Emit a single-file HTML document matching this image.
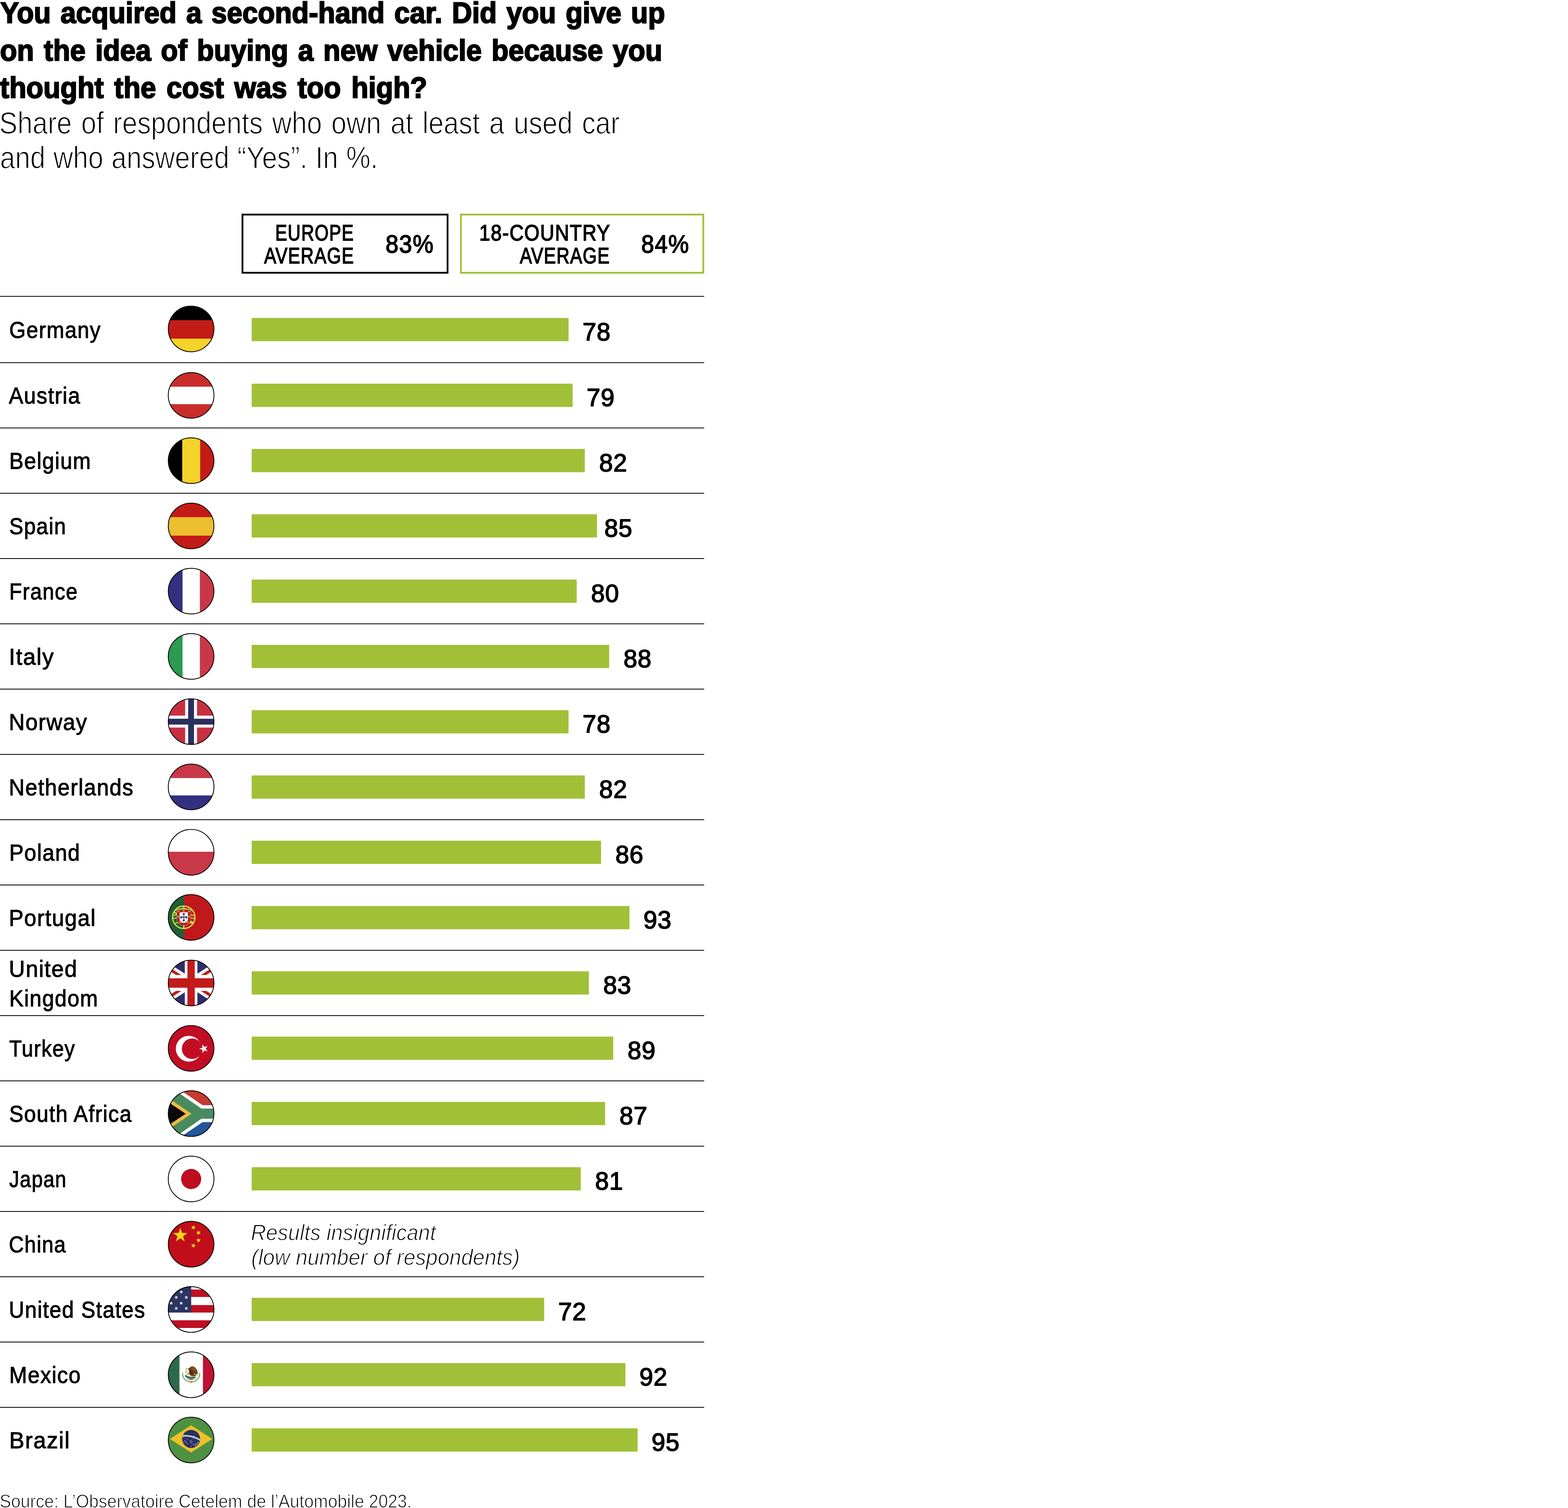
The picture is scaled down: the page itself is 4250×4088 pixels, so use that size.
<!DOCTYPE html>
<html lang="en"><head><meta charset="utf-8"><title>Second-hand car chart</title>
<style>
html,body{margin:0;padding:0;background:#fff;width:4250px;height:4088px;overflow:hidden}
#page{position:relative;width:4250px;height:4088px;overflow:hidden;background:#fff;font-family:"Liberation Sans", sans-serif;color:#000}
h1,p,ul,li{margin:0;padding:0;font:inherit;list-style:none}
.x{position:absolute;display:block;white-space:nowrap;transform-origin:0 0;margin:0}
.t{font-weight:700}
.n{font-style:italic}
#g{position:absolute;left:0;top:0}
</style></head>
<body>
<div id="page">
<svg id="g" width="4250" height="4088" viewBox="0 0 4250 4088">
<defs><clipPath id="cc"><circle r="62.20"/></clipPath></defs>
<rect x="0" y="802.30" width="1908.6" height="2.2" fill="#000"/>
<rect x="0" y="982.00" width="1908.6" height="2.2" fill="#000"/>
<rect x="0" y="1159.00" width="1908.6" height="2.2" fill="#000"/>
<rect x="0" y="1336.00" width="1908.6" height="2.2" fill="#000"/>
<rect x="0" y="1513.00" width="1908.6" height="2.2" fill="#000"/>
<rect x="0" y="1690.00" width="1908.6" height="2.2" fill="#000"/>
<rect x="0" y="1867.00" width="1908.6" height="2.2" fill="#000"/>
<rect x="0" y="2044.00" width="1908.6" height="2.2" fill="#000"/>
<rect x="0" y="2221.00" width="1908.6" height="2.2" fill="#000"/>
<rect x="0" y="2398.00" width="1908.6" height="2.2" fill="#000"/>
<rect x="0" y="2575.00" width="1908.6" height="2.2" fill="#000"/>
<rect x="0" y="2752.00" width="1908.6" height="2.2" fill="#000"/>
<rect x="0" y="2929.00" width="1908.6" height="2.2" fill="#000"/>
<rect x="0" y="3106.00" width="1908.6" height="2.2" fill="#000"/>
<rect x="0" y="3283.00" width="1908.6" height="2.2" fill="#000"/>
<rect x="0" y="3460.00" width="1908.6" height="2.2" fill="#000"/>
<rect x="0" y="3637.00" width="1908.6" height="2.2" fill="#000"/>
<rect x="0" y="3814.00" width="1908.6" height="2.2" fill="#000"/>
<rect x="682.1" y="861.90" width="858.94" height="63" fill="#a2c037"/>
<rect x="682.1" y="1040.10" width="869.95" height="63" fill="#a2c037"/>
<rect x="682.1" y="1217.10" width="902.98" height="63" fill="#a2c037"/>
<rect x="682.1" y="1394.10" width="936.02" height="63" fill="#a2c037"/>
<rect x="682.1" y="1571.10" width="880.96" height="63" fill="#a2c037"/>
<rect x="682.1" y="1748.10" width="969.06" height="63" fill="#a2c037"/>
<rect x="682.1" y="1925.10" width="858.94" height="63" fill="#a2c037"/>
<rect x="682.1" y="2102.10" width="902.98" height="63" fill="#a2c037"/>
<rect x="682.1" y="2279.10" width="947.03" height="63" fill="#a2c037"/>
<rect x="682.1" y="2456.10" width="1024.12" height="63" fill="#a2c037"/>
<rect x="682.1" y="2633.10" width="914.00" height="63" fill="#a2c037"/>
<rect x="682.1" y="2810.10" width="980.07" height="63" fill="#a2c037"/>
<rect x="682.1" y="2987.10" width="958.04" height="63" fill="#a2c037"/>
<rect x="682.1" y="3164.10" width="891.97" height="63" fill="#a2c037"/>
<rect x="682.1" y="3518.10" width="792.86" height="63" fill="#a2c037"/>
<rect x="682.1" y="3695.10" width="1013.10" height="63" fill="#a2c037"/>
<rect x="682.1" y="3872.10" width="1046.14" height="63" fill="#a2c037"/>
<rect x="657.20" y="581.70" width="555.90" height="157.70" fill="none" stroke="#000" stroke-width="4.8"/>
<rect x="1249.20" y="581.70" width="657.00" height="157.70" fill="none" stroke="#a2c037" stroke-width="4.8"/>
<g transform="translate(518.0,891.65)"><g clip-path="url(#cc)"><rect x="-66" y="-66" width="132" height="132" fill="#c31c17"/><rect x="-66" y="-66" width="132" height="42.35" fill="#000"/><rect x="-66" y="26.35" width="132" height="39.65" fill="#f6d32a"/></g><circle r="61.90" fill="none" stroke="#000" stroke-width="2.2"/></g>
<g transform="translate(518.0,1071.80)"><g clip-path="url(#cc)"><rect x="-66" y="-66" width="132" height="132" fill="#c92d2a"/><rect x="-66" y="-23.5" width="132" height="47.3" fill="#fff"/></g><circle r="61.90" fill="none" stroke="#000" stroke-width="2.2"/></g>
<g transform="translate(518.0,1248.70)"><g clip-path="url(#cc)"><rect x="-66" y="-66" width="132" height="132" fill="#f6d32a"/><rect x="-66" y="-66" width="41.95" height="132" fill="#000"/><rect x="24.55" y="-66" width="41.45" height="132" fill="#c31c17"/></g><circle r="61.90" fill="none" stroke="#000" stroke-width="2.2"/></g>
<g transform="translate(518.0,1425.70)"><g clip-path="url(#cc)"><rect x="-66" y="-66" width="132" height="132" fill="#c31c17"/><rect x="-66" y="-23.8" width="132" height="50.1" fill="#edbe2e"/></g><circle r="61.90" fill="none" stroke="#000" stroke-width="2.2"/></g>
<g transform="translate(518.0,1602.50)"><g clip-path="url(#cc)"><rect x="-66" y="-66" width="132" height="132" fill="#fff"/><rect x="-66" y="-66" width="42.75" height="132" fill="#33317f"/><rect x="23.75" y="-66" width="42.25" height="132" fill="#c93848"/></g><circle r="61.90" fill="none" stroke="#000" stroke-width="2.2"/></g>
<g transform="translate(518.0,1779.50)"><g clip-path="url(#cc)"><rect x="-66" y="-66" width="132" height="132" fill="#fff"/><rect x="-66" y="-66" width="42.75" height="132" fill="#2c9a50"/><rect x="23.75" y="-66" width="42.25" height="132" fill="#c93848"/></g><circle r="61.90" fill="none" stroke="#000" stroke-width="2.2"/></g>
<g transform="translate(518.0,1956.20)"><g clip-path="url(#cc)"><rect x="-66" y="-66" width="132" height="132" fill="#c83042"/><rect x="-16.15" y="-66" width="32.2" height="132" fill="#fff"/><rect x="-66" y="-16.2" width="132" height="32.3" fill="#fff"/><rect x="-7.95" y="-66" width="15.8" height="132" fill="#2b2f5e"/><rect x="-66" y="-7.8" width="132" height="15.9" fill="#2b2f5e"/></g><circle r="61.90" fill="none" stroke="#000" stroke-width="2.2"/></g>
<g transform="translate(518.0,2133.30)"><g clip-path="url(#cc)"><rect x="-66" y="-66" width="132" height="132" fill="#fff"/><rect x="-66" y="-66" width="132" height="41.9" fill="#c93848"/><rect x="-66" y="23.0" width="132" height="43.0" fill="#33317f"/></g><circle r="61.90" fill="none" stroke="#000" stroke-width="2.2"/></g>
<g transform="translate(518.0,2310.40)"><g clip-path="url(#cc)"><rect x="-66" y="-66" width="132" height="132" fill="#fff"/><rect x="-66" y="-1.4" width="132" height="67.4" fill="#c93848"/></g><circle r="61.90" fill="none" stroke="#000" stroke-width="2.2"/></g>
<g transform="translate(518.0,2486.90)"><g clip-path="url(#cc)"><rect x="-66" y="-66" width="132" height="132" fill="#c1181c"/><rect x="-66" y="-66" width="46.9" height="132" fill="#235e35"/><g transform="translate(-19.9,-0.2)"><circle r="30.4" fill="none" stroke="#9ec95a" stroke-width="3.5"/><path d="M0 -30.4V30.4" stroke="#9ec95a" stroke-width="3.5" fill="none"/><path d="M-30 -4C-18 -9 18 -9 30 -4M-30 4C-18 -1 18 -1 30 4" stroke="#9ec95a" stroke-width="2.80" fill="none"/><path d="M-24 -18C-12 -25 12 -25 24 -18M-24.5 17C-12 11 12 11 24.5 17" stroke="#9ec95a" stroke-width="2.80" fill="none"/><path d="M-27 -14L26 15" stroke="#9ec95a" stroke-width="4.38" fill="none"/><circle r="30.4" fill="none" stroke="#ece232" stroke-width="1.9"/><path d="M0 -30.4V30.4" stroke="#ece232" stroke-width="1.9" fill="none"/><path d="M-30 -4C-18 -9 18 -9 30 -4M-30 4C-18 -1 18 -1 30 4" stroke="#ece232" stroke-width="1.52" fill="none"/><path d="M-24 -18C-12 -25 12 -25 24 -18M-24.5 17C-12 11 12 11 24.5 17" stroke="#ece232" stroke-width="1.52" fill="none"/><path d="M-27 -14L26 15" stroke="#ece232" stroke-width="2.38" fill="none"/><path d="M-18.9 -21.3H18.9V5.5C18.9 15.5 10.5 22 0 22C-10.5 22 -18.9 15.5 -18.9 5.5Z" fill="#c1181c" stroke="#8cc8c0" stroke-width="0.9"/><path d="M-11 -13.4H11V4.5C11 10.8 6 15 0 15C-6 15 -11 10.8 -11 4.5Z" fill="#fff" stroke="#bfe3dd" stroke-width="0.6"/><path d="M-2.7 -11.1H2.7V-7.4C2.7 -5.6 1.4 -4.8 0 -4.8C-1.4 -4.8 -2.7 -5.6 -2.7 -7.4Z" fill="#2c2f7c"/><circle cx="-1" cy="-9.3" r="0.45" fill="#d9dcf2"/><circle cx="1" cy="-9.3" r="0.45" fill="#d9dcf2"/><circle cx="0" cy="-8" r="0.45" fill="#d9dcf2"/><circle cx="-1" cy="-6.7" r="0.45" fill="#d9dcf2"/><circle cx="1" cy="-6.7" r="0.45" fill="#d9dcf2"/><path d="M-9.4 -2.9H-4.0V0.8C-4.0 2.6 -5.300000000000001 3.4000000000000004 -6.7 3.4000000000000004C-8.1 3.4000000000000004 -9.4 2.6 -9.4 0.8Z" fill="#2c2f7c"/><circle cx="-7.7" cy="-1.1" r="0.45" fill="#d9dcf2"/><circle cx="-5.7" cy="-1.1" r="0.45" fill="#d9dcf2"/><circle cx="-6.7" cy="0.2" r="0.45" fill="#d9dcf2"/><circle cx="-7.7" cy="1.5" r="0.45" fill="#d9dcf2"/><circle cx="-5.7" cy="1.5" r="0.45" fill="#d9dcf2"/><path d="M-2.7 -2.9H2.7V0.8C2.7 2.6 1.4 3.4000000000000004 0 3.4000000000000004C-1.4 3.4000000000000004 -2.7 2.6 -2.7 0.8Z" fill="#2c2f7c"/><circle cx="-1" cy="-1.1" r="0.45" fill="#d9dcf2"/><circle cx="1" cy="-1.1" r="0.45" fill="#d9dcf2"/><circle cx="0" cy="0.2" r="0.45" fill="#d9dcf2"/><circle cx="-1" cy="1.5" r="0.45" fill="#d9dcf2"/><circle cx="1" cy="1.5" r="0.45" fill="#d9dcf2"/><path d="M4.0 -2.9H9.4V0.8C9.4 2.6 8.1 3.4000000000000004 6.7 3.4000000000000004C5.300000000000001 3.4000000000000004 4.0 2.6 4.0 0.8Z" fill="#2c2f7c"/><circle cx="5.7" cy="-1.1" r="0.45" fill="#d9dcf2"/><circle cx="7.7" cy="-1.1" r="0.45" fill="#d9dcf2"/><circle cx="6.7" cy="0.2" r="0.45" fill="#d9dcf2"/><circle cx="5.7" cy="1.5" r="0.45" fill="#d9dcf2"/><circle cx="7.7" cy="1.5" r="0.45" fill="#d9dcf2"/><path d="M-2.7 5.300000000000001H2.7V9.0C2.7 10.8 1.4 11.600000000000001 0 11.600000000000001C-1.4 11.600000000000001 -2.7 10.8 -2.7 9.0Z" fill="#2c2f7c"/><circle cx="-1" cy="7.1000000000000005" r="0.45" fill="#d9dcf2"/><circle cx="1" cy="7.1000000000000005" r="0.45" fill="#d9dcf2"/><circle cx="0" cy="8.4" r="0.45" fill="#d9dcf2"/><circle cx="-1" cy="9.700000000000001" r="0.45" fill="#d9dcf2"/><circle cx="1" cy="9.700000000000001" r="0.45" fill="#d9dcf2"/><rect x="-17.2" y="-18.9" width="5.2" height="4.6" fill="#b5a01e"/><rect x="-16.1" y="-20.099999999999998" width="3" height="1.6" fill="#8f7c14"/><rect x="-2.8000000000000003" y="-18.9" width="5.2" height="4.6" fill="#b5a01e"/><rect x="-1.7" y="-20.099999999999998" width="3" height="1.6" fill="#8f7c14"/><rect x="11.9" y="-18.9" width="5.2" height="4.6" fill="#b5a01e"/><rect x="13.0" y="-20.099999999999998" width="3" height="1.6" fill="#8f7c14"/><rect x="-17.2" y="-4.0" width="5.2" height="4.6" fill="#b5a01e"/><rect x="-16.1" y="-5.2" width="3" height="1.6" fill="#8f7c14"/><rect x="11.9" y="-4.0" width="5.2" height="4.6" fill="#b5a01e"/><rect x="13.0" y="-5.2" width="3" height="1.6" fill="#8f7c14"/><rect x="-13.299999999999999" y="11.2" width="5.2" height="4.6" fill="#b5a01e"/><rect x="-12.2" y="10.0" width="3" height="1.6" fill="#8f7c14"/><rect x="8.200000000000001" y="11.2" width="5.2" height="4.6" fill="#b5a01e"/><rect x="9.3" y="10.0" width="3" height="1.6" fill="#8f7c14"/></g></g><circle r="61.90" fill="none" stroke="#000" stroke-width="2.2"/></g>
<g transform="translate(518.0,2664.70)"><g clip-path="url(#cc)"><rect x="-66" y="-66" width="132" height="132" fill="#2f2c6e"/><path d="M-100 -64.0L100 64.0M100 -64.0L-100 64.0" stroke="#fff" stroke-width="24.1" fill="none"/><path d="M-100 -64.0L100 64.0M100 -64.0L-100 64.0" stroke="#c21b1b" stroke-width="7.9" fill="none"/><rect x="-17.1" y="-66" width="34.15" height="132" fill="#fff"/><rect x="-66" y="-21.6" width="132" height="43.1" fill="#fff"/><rect x="-10.0" y="-66" width="19.9" height="132" fill="#c21b1b"/><rect x="-66" y="-12.7" width="132" height="25.6" fill="#c21b1b"/></g><circle r="61.90" fill="none" stroke="#000" stroke-width="2.2"/></g>
<g transform="translate(518.0,2841.90)"><g clip-path="url(#cc)"><rect x="-66" y="-66" width="132" height="132" fill="#c10e24"/><circle cx="-6.4" cy="1.05" r="35.05" fill="#fff"/><circle cx="2.7" cy="1.1" r="27.8" fill="#c10e24"/><polygon points="21.95,0.90 30.73,-1.95 30.73,-11.18 36.15,-3.71 44.92,-6.56 39.50,0.90 44.92,8.36 36.15,5.51 30.73,12.98 30.73,3.75" fill="#fff"/></g><circle r="61.90" fill="none" stroke="#000" stroke-width="2.2"/></g>
<g transform="translate(518.0,3018.85)"><g clip-path="url(#cc)"><rect x="-66" y="-66" width="132" height="132" fill="#fff"/><polygon points="-38.35,-70 70,-70 70,-22.9 31,-22.9" fill="#c73a2f"/><polygon points="-38.35,70.2 70,70.2 70,23.05 31,23.05" fill="#24569c"/><polygon points="-53.5,-70 28,-13.6 70,-13.6 70,14 28,14 -53.5,70.3 -70,70.3 -70,-70" fill="#4a8a5f"/><polygon points="-70,-47.7 1.3,0.4 -70,48.5" fill="#ecba41"/><polygon points="-70,-36.4 -14.7,0.4 -70,37.2" fill="#0a0a0d"/></g><circle r="61.90" fill="none" stroke="#000" stroke-width="2.2"/></g>
<g transform="translate(518.0,3196.00)"><g clip-path="url(#cc)"><rect x="-66" y="-66" width="132" height="132" fill="#fff"/><circle cx="0.1" cy="0.1" r="27.3" fill="#be0d1f"/></g><circle r="61.90" fill="none" stroke="#000" stroke-width="2.2"/></g>
<g transform="translate(518.0,3372.85)"><g clip-path="url(#cc)"><rect x="-66" y="-66" width="132" height="132" fill="#c10e1a"/><polygon points="-29.30,-44.60 -24.67,-30.37 -9.71,-30.37 -21.82,-21.57 -17.19,-7.33 -29.30,-16.13 -41.41,-7.33 -36.78,-21.57 -48.89,-30.37 -33.93,-30.37" fill="#f8d90f"/><polygon points="-0.08,-41.50 3.36,-45.44 0.67,-49.93 5.49,-47.88 8.92,-51.82 8.46,-46.61 13.27,-44.56 8.17,-43.39 7.71,-38.18 5.02,-42.67" fill="#f8d90f"/><polygon points="12.87,-29.82 17.57,-32.10 16.86,-37.28 20.48,-33.51 25.19,-35.79 22.72,-31.18 26.35,-27.40 21.20,-28.32 18.73,-23.71 18.02,-28.89" fill="#f8d90f"/><polygon points="13.05,-12.49 18.28,-12.74 19.65,-17.79 21.51,-12.90 26.73,-13.16 22.65,-9.88 24.51,-4.99 20.13,-7.85 16.06,-4.58 17.43,-9.62" fill="#f8d90f"/><polygon points="0.45,-0.56 5.35,1.25 8.59,-2.86 8.39,2.37 13.29,4.18 8.26,5.60 8.06,10.83 5.15,6.48 0.11,7.90 3.35,3.79" fill="#f8d90f"/></g><circle r="61.90" fill="none" stroke="#000" stroke-width="2.2"/></g>
<g transform="translate(518.0,3549.85)"><g clip-path="url(#cc)"><rect x="-66" y="-66" width="132" height="132" fill="#fff"/><rect x="-66" y="-95.6" width="132" height="20.85" fill="#bf0f22"/><rect x="-66" y="-54.2" width="132" height="20.25" fill="#bf0f22"/><rect x="-66" y="-12.0" width="132" height="20.3" fill="#bf0f22"/><rect x="-66" y="29.3" width="132" height="20.85" fill="#bf0f22"/><rect x="-66" y="70.9" width="132" height="20.85" fill="#bf0f22"/><rect x="-66" y="-66" width="66.2" height="74.3" fill="#2c3464"/><polygon points="-26.70,-52.70 -25.43,-49.05 -21.56,-48.97 -24.65,-46.63 -23.53,-42.93 -26.70,-45.14 -29.87,-42.93 -28.75,-46.63 -31.84,-48.97 -27.97,-49.05" fill="#fff"/><polygon points="-40.30,-38.20 -39.03,-34.55 -35.16,-34.47 -38.25,-32.13 -37.13,-28.43 -40.30,-30.64 -43.47,-28.43 -42.35,-32.13 -45.44,-34.47 -41.57,-34.55" fill="#fff"/><polygon points="-13.00,-38.20 -11.73,-34.55 -7.86,-34.47 -10.95,-32.13 -9.83,-28.43 -13.00,-30.64 -16.17,-28.43 -15.05,-32.13 -18.14,-34.47 -14.27,-34.55" fill="#fff"/><polygon points="-54.00,-22.30 -52.73,-18.65 -48.86,-18.57 -51.95,-16.23 -50.83,-12.53 -54.00,-14.74 -57.17,-12.53 -56.05,-16.23 -59.14,-18.57 -55.27,-18.65" fill="#fff"/><polygon points="-26.90,-22.30 -25.63,-18.65 -21.76,-18.57 -24.85,-16.23 -23.73,-12.53 -26.90,-14.74 -30.07,-12.53 -28.95,-16.23 -32.04,-18.57 -28.17,-18.65" fill="#fff"/><polygon points="-40.30,-8.30 -39.03,-4.65 -35.16,-4.57 -38.25,-2.23 -37.13,1.47 -40.30,-0.74 -43.47,1.47 -42.35,-2.23 -45.44,-4.57 -41.57,-4.65" fill="#fff"/><polygon points="-13.00,-8.30 -11.73,-4.65 -7.86,-4.57 -10.95,-2.23 -9.83,1.47 -13.00,-0.74 -16.17,1.47 -15.05,-2.23 -18.14,-4.57 -14.27,-4.65" fill="#fff"/></g><circle r="61.90" fill="none" stroke="#000" stroke-width="2.2"/></g>
<g transform="translate(518.0,3726.85)"><g clip-path="url(#cc)"><rect x="-66" y="-66" width="132" height="132" fill="#fff"/><rect x="-66" y="-66" width="34.5" height="132" fill="#2d6a4a"/><rect x="32.1" y="-66" width="33.9" height="132" fill="#bf1131"/><g><ellipse cx="-23.17" cy="-0.05" rx="2.5" ry="1.4" fill="#7f9a44" transform="rotate(53.7 -23.17 -0.05)"/><ellipse cx="23.17" cy="-0.05" rx="2.5" ry="1.4" fill="#7f9a44" transform="rotate(126.3 23.17 -0.05)"/><ellipse cx="-22.23" cy="3.86" rx="2.5" ry="1.4" fill="#7f9a44" transform="rotate(43.2 -22.23 3.86)"/><circle cx="-20.01" cy="2.66" r="0.8" fill="#d0aa3a"/><ellipse cx="22.23" cy="3.86" rx="2.5" ry="1.4" fill="#7f9a44" transform="rotate(136.8 22.23 3.86)"/><circle cx="20.01" cy="2.66" r="0.8" fill="#d0aa3a"/><ellipse cx="-20.58" cy="7.55" rx="2.5" ry="1.4" fill="#7f9a44" transform="rotate(32.8 -20.58 7.55)"/><ellipse cx="20.58" cy="7.55" rx="2.5" ry="1.4" fill="#7f9a44" transform="rotate(147.2 20.58 7.55)"/><ellipse cx="-18.29" cy="10.90" rx="2.5" ry="1.4" fill="#7f9a44" transform="rotate(22.4 -18.29 10.90)"/><ellipse cx="18.29" cy="10.90" rx="2.5" ry="1.4" fill="#7f9a44" transform="rotate(157.6 18.29 10.90)"/><ellipse cx="-15.41" cy="13.80" rx="2.5" ry="1.4" fill="#7f9a44" transform="rotate(12.2 -15.41 13.80)"/><circle cx="-13.87" cy="12.60" r="0.8" fill="#d0aa3a"/><ellipse cx="15.41" cy="13.80" rx="2.5" ry="1.4" fill="#7f9a44" transform="rotate(167.8 15.41 13.80)"/><circle cx="13.87" cy="12.60" r="0.8" fill="#d0aa3a"/><ellipse cx="-12.05" cy="16.17" rx="2.5" ry="1.4" fill="#7f9a44" transform="rotate(2.1 -12.05 16.17)"/><ellipse cx="12.05" cy="16.17" rx="2.5" ry="1.4" fill="#7f9a44" transform="rotate(177.9 12.05 16.17)"/><ellipse cx="-8.31" cy="17.93" rx="2.5" ry="1.4" fill="#7f9a44" transform="rotate(-7.9 -8.31 17.93)"/><ellipse cx="8.31" cy="17.93" rx="2.5" ry="1.4" fill="#7f9a44" transform="rotate(187.9 8.31 17.93)"/><ellipse cx="-4.30" cy="19.01" rx="2.5" ry="1.4" fill="#7f9a44" transform="rotate(-17.8 -4.30 19.01)"/><circle cx="-3.87" cy="17.81" r="0.8" fill="#d0aa3a"/><ellipse cx="4.30" cy="19.01" rx="2.5" ry="1.4" fill="#7f9a44" transform="rotate(197.8 4.30 19.01)"/><circle cx="3.87" cy="17.81" r="0.8" fill="#d0aa3a"/><ellipse cx="-0.16" cy="19.40" rx="2.5" ry="1.4" fill="#7f9a44" transform="rotate(-27.6 -0.16 19.40)"/><ellipse cx="0.16" cy="19.40" rx="2.5" ry="1.4" fill="#7f9a44" transform="rotate(207.6 0.16 19.40)"/><ellipse cx="-22.60" cy="-3.60" rx="2.6" ry="1.2" fill="#7f9a44" transform="rotate(-70.0 -22.60 -3.60)"/><ellipse cx="22.90" cy="-3.60" rx="2.6" ry="1.2" fill="#7f9a44" transform="rotate(70.0 22.90 -3.60)"/><path d="M-1.6 19.2L0.4 17.2L2.4 19.2L0.4 21.6Z" fill="#c8374c"/><path d="M-2.6 20.6L-0.8 19.4M3.4 20.6L1.6 19.4" stroke="#3f8a5a" stroke-width="0.9"/><path d="M-11.6 10.2C-9 8.4 -5 9.6 -3.2 9.2L4.2 9.2C6 9.6 8 8.6 9.4 10C8.6 12.8 5 14.2 -1 14.2C-6 14.2 -10 13 -11.6 10.2Z" fill="#56a7e0"/><path d="M-9.5 11.6H-5.5M4.6 11.8H8" stroke="#e8f3fb" stroke-width="0.8"/><path d="M-4.4 10.2H4.6L4 14.4H-3.8Z" fill="#c45a1e"/><path d="M-2.6 11.2L-0.6 13L1.4 11.2L2.8 13" stroke="#e9a24a" stroke-width="0.8" fill="none"/><path d="M-16.6 0.8C-14.8 -0.6 -12.4 1.2 -10.4 2.6C-7.4 4.4 -3 5.2 1 5.4C5.2 5.6 9.4 5 13.4 6.4C13.8 8.4 11.6 10 8.4 10.2C4.4 10.6 -0.6 10 -5.2 9.6C-9.4 9.2 -13.6 8.4 -15.4 6.2C-16.6 4.6 -17.2 2.4 -16.6 0.8Z" fill="#3b7c78"/><path d="M-13.4 3.6C-10 6 -4 7.4 2 7.6C6 7.8 9.6 7.4 12 7.8" stroke="#2a5f66" stroke-width="1" fill="none" stroke-dasharray="1.6 1.2"/><path d="M-4.6 -18.6C-2.6 -20.8 -0.9 -21.6 1.2 -22.4C3.6 -23.2 6.4 -22.6 9 -21C12.8 -18.6 16 -14.2 17.4 -9.4C18.4 -6 18.2 -2.6 16.6 0.6C16 -1.4 15.2 -3 14.2 -4.2C14.6 -1.4 14.4 1.4 13.9 3.7C10 4.2 5.4 4.2 1.3 3.7C-0.8 3 -2.4 1.8 -3.2 0.7C-5 -1 -6 -3 -5.8 -4.5C-6.4 -6.6 -6 -8.6 -5.4 -10.4C-7 -12.4 -7.8 -14.6 -7.6 -16.7C-6.8 -17.8 -5.6 -18.4 -4.6 -18.6Z" fill="#6b4017"/><path d="M1.4 -21.6C5.4 -21.8 9.6 -19.4 12.6 -15.4C15.2 -12 16.8 -7.6 16.6 -3.4C15 -6.4 12.6 -9 9.6 -11C6.4 -13 3.4 -14.4 1.6 -17C0.8 -18.4 0.8 -20.2 1.4 -21.6Z" fill="#8b5d27"/><path d="M-3.6 -13.4C-0.6 -11.4 2.4 -8.4 4.4 -4.8C5.6 -2.6 6.2 -0.6 6.2 1.2C3.4 0.4 0.4 -1.6 -1.6 -4.4C-3.4 -7 -4.2 -10.4 -3.6 -13.4Z" fill="#4a2a0e"/><path d="M4 -19.5L13 -8.5M7 -21L15.5 -10.5M2.4 -16.4L11 -6.4M8.6 -9.4L13.4 -1.6M11.4 -10.4L15.4 -3.2" stroke="#4a2a0e" stroke-width="0.7" fill="none" stroke-dasharray="1.4 1"/><path d="M6.6 -2.6L12.6 0.6L14.6 3.4" stroke="#fff" stroke-width="1.1" fill="none"/><path d="M1.6 3.4L6.8 2.6L9.8 4.6L8.4 6L3.2 6.2Z" fill="#c2a02e"/><path d="M-7.2 -17.2C-9.4 -17.9 -12 -17.2 -13.6 -15.6L-11 -14.6C-9.6 -15.4 -8.2 -15.4 -6.9 -14.9Z" fill="#c9a432"/><path d="M-13 -18C-14.8 -16.4 -12.2 -14.2 -12.6 -12.2C-13 -10.2 -15.4 -9.4 -14.8 -7.2C-14.2 -5.2 -11.8 -5.6 -10.8 -4C-10 -2.8 -10.8 -1.6 -9.8 -0.8C-8.8 0 -7.4 -0.6 -6.4 -0.2" fill="none" stroke="#9a8a35" stroke-width="1.3"/><path d="M-16.8 -9.2L-13.4 -9.4L-15.8 -7.4Z" fill="#c9a432"/><path d="M-10.4 -3.4L-6 -4.2L-5.6 -0.8L-9.6 0.2Z" fill="#c2a02e"/><path d="M-12.4 -12.6L-8.6 -7.4M-11.6 -8.4L-8 -4.6" stroke="#a9b06a" stroke-width="0.7"/></g></g><circle r="61.90" fill="none" stroke="#000" stroke-width="2.2"/></g>
<g transform="translate(518.0,3903.70)"><g clip-path="url(#cc)"><rect x="-66" y="-66" width="132" height="132" fill="#4f9142"/><polygon points="-57.4,-3.0 -0.2,-39.9 57.4,-3.0 -0.2,33.9" fill="#ecc127"/><circle cx="0" cy="-2.9" r="24.5" fill="#2b3064"/><clipPath id="brc"><circle cx="0" cy="-2.9" r="24.5"/></clipPath><g clip-path="url(#brc)"><path d="M-26 -10.9Q2 -14.2 26 1.3" fill="none" stroke="#fff" stroke-width="3.7"/><path d="M-22 -11.05Q2 -13.6 23 -0.2" fill="none" stroke="#4f9142" stroke-width="1.6" stroke-dasharray="1.5 1.1"/></g><circle cx="-20.6" cy="-7" r="0.95" fill="#e9eaf4"/><circle cx="-9.6" cy="-1.6" r="0.95" fill="#e9eaf4"/><circle cx="6.4" cy="-4.2" r="0.95" fill="#e9eaf4"/><circle cx="7.5" cy="-10.8" r="0.95" fill="#e9eaf4"/><circle cx="-18.3" cy="3.4" r="0.95" fill="#e9eaf4"/><circle cx="-16" cy="2" r="0.95" fill="#e9eaf4"/><circle cx="-21.5" cy="5.7" r="0.95" fill="#e9eaf4"/><circle cx="-13.2" cy="5.8" r="0.95" fill="#e9eaf4"/><circle cx="-14" cy="8.2" r="0.95" fill="#e9eaf4"/><circle cx="-10.2" cy="10.7" r="0.95" fill="#e9eaf4"/><circle cx="-0.2" cy="1.3" r="0.95" fill="#e9eaf4"/><circle cx="-2.5" cy="3.6" r="0.95" fill="#e9eaf4"/><circle cx="2.8" cy="3.8" r="0.95" fill="#e9eaf4"/><circle cx="0" cy="8.3" r="0.95" fill="#e9eaf4"/><circle cx="-1.5" cy="5.5" r="0.95" fill="#e9eaf4"/><circle cx="5.5" cy="11.2" r="0.95" fill="#e9eaf4"/><circle cx="7.3" cy="14.2" r="0.95" fill="#e9eaf4"/><circle cx="9.6" cy="11.6" r="0.95" fill="#e9eaf4"/><circle cx="12.3" cy="11.4" r="0.95" fill="#e9eaf4"/><circle cx="12.3" cy="13.9" r="0.95" fill="#e9eaf4"/><circle cx="12.3" cy="16.4" r="0.95" fill="#e9eaf4"/><circle cx="15" cy="11.6" r="0.95" fill="#e9eaf4"/><circle cx="16.6" cy="10.2" r="0.95" fill="#e9eaf4"/><circle cx="18" cy="8.2" r="0.95" fill="#e9eaf4"/><circle cx="17.5" cy="5.7" r="0.95" fill="#e9eaf4"/><circle cx="20.6" cy="6.2" r="0.95" fill="#e9eaf4"/><circle cx="0" cy="16.8" r="0.95" fill="#e9eaf4"/></g><circle r="61.90" fill="none" stroke="#000" stroke-width="2.2"/></g>
</svg>
<h1>
<span id="t0" class="x t" style="left:0.53px;top:-5.35px;font-size:79.80px;line-height:79.80px;transform:scaleX(0.9458);-webkit-text-stroke:3.0px #000;word-spacing:5.50px">You acquired a second-hand car. Did you give up</span>
<span id="t1" class="x t" style="left:-0.14px;top:96.65px;font-size:79.80px;line-height:79.80px;transform:scaleX(0.9460);-webkit-text-stroke:3.0px #000;word-spacing:5.87px">on the idea of buying a new vehicle because you</span>
<span id="t2" class="x t" style="left:0.48px;top:197.65px;font-size:79.80px;line-height:79.80px;transform:scaleX(0.9474);-webkit-text-stroke:3.0px #000;word-spacing:7.76px">thought the cost was too high?</span>
</h1>
<p class="sub">
<span id="t3" class="x s" style="left:-1.60px;top:291.98px;font-size:83.14px;line-height:83.14px;transform:scaleX(0.8868);-webkit-text-stroke:2.0px #fff;word-spacing:5.33px">Share of respondents who own at least a used car</span>
<span id="t4" class="x s" style="left:0.00px;top:385.98px;font-size:83.14px;line-height:83.14px;transform:scaleX(0.8866);-webkit-text-stroke:2.0px #fff;word-spacing:1.59px">and who answered “Yes”. In %.</span>
</p>
<div class="legend">
<span id="t5" class="x r" style="left:745.58px;top:600.81px;font-size:60.47px;line-height:60.47px;transform:scaleX(0.8002);-webkit-text-stroke:2.1px #000;letter-spacing:2.0px">EUROPE</span>
<span id="t6" class="x r" style="left:715.51px;top:662.81px;font-size:60.47px;line-height:60.47px;transform:scaleX(0.8090);-webkit-text-stroke:2.1px #000;letter-spacing:2.0px">AVERAGE</span>
<span id="t7" class="x r" style="left:1045.19px;top:627.45px;font-size:69.19px;line-height:69.19px;transform:scaleX(0.9105);-webkit-text-stroke:2.2px #000;letter-spacing:2.0px">83%</span>
<span id="t8" class="x r" style="left:1299.02px;top:600.81px;font-size:60.47px;line-height:60.47px;transform:scaleX(0.8776);-webkit-text-stroke:2.1px #000;letter-spacing:2.0px">18-COUNTRY</span>
<span id="t9" class="x r" style="left:1408.91px;top:662.81px;font-size:60.47px;line-height:60.47px;transform:scaleX(0.8097);-webkit-text-stroke:2.1px #000;letter-spacing:2.0px">AVERAGE</span>
<span id="t10" class="x r" style="left:1738.02px;top:627.45px;font-size:69.19px;line-height:69.19px;transform:scaleX(0.9062);-webkit-text-stroke:2.2px #000;letter-spacing:2.0px">84%</span>
</div>
<ul class="rows">
<li class="row"><span id="t11" class="x r" style="left:24.59px;top:863.52px;font-size:62.06px;line-height:62.06px;transform:scaleX(0.9252);-webkit-text-stroke:1.4px #000;letter-spacing:2.0px">Germany</span>
<span id="t12" class="x v" style="left:1578.60px;top:865.45px;font-size:69.19px;line-height:69.19px;transform:scaleX(0.9680);-webkit-text-stroke:2.2px #000;letter-spacing:1.0px">78</span></li>
<li class="row"><span id="t13" class="x r" style="left:24.45px;top:1041.52px;font-size:62.06px;line-height:62.06px;transform:scaleX(0.9402);-webkit-text-stroke:1.4px #000;letter-spacing:2.0px">Austria</span>
<span id="t14" class="x v" style="left:1589.61px;top:1043.45px;font-size:69.19px;line-height:69.19px;transform:scaleX(0.9680);-webkit-text-stroke:2.2px #000;letter-spacing:1.0px">79</span></li>
<li class="row"><span id="t15" class="x r" style="left:24.58px;top:1218.52px;font-size:62.06px;line-height:62.06px;transform:scaleX(0.9353);-webkit-text-stroke:1.4px #000;letter-spacing:2.0px">Belgium</span>
<span id="t16" class="x v" style="left:1623.69px;top:1220.45px;font-size:69.19px;line-height:69.19px;transform:scaleX(0.9680);-webkit-text-stroke:2.2px #000;letter-spacing:1.0px">82</span></li>
<li class="row"><span id="t17" class="x r" style="left:24.59px;top:1395.52px;font-size:62.06px;line-height:62.06px;transform:scaleX(0.9213);-webkit-text-stroke:1.4px #000;letter-spacing:2.0px">Spain</span>
<span id="t18" class="x v" style="left:1638.01px;top:1397.45px;font-size:69.19px;line-height:69.19px;transform:scaleX(0.9680);-webkit-text-stroke:2.2px #000;letter-spacing:1.0px">85</span></li>
<li class="row"><span id="t19" class="x r" style="left:24.85px;top:1572.52px;font-size:62.06px;line-height:62.06px;transform:scaleX(0.9100);-webkit-text-stroke:1.4px #000;letter-spacing:2.0px">France</span>
<span id="t20" class="x v" style="left:1601.67px;top:1574.45px;font-size:69.19px;line-height:69.19px;transform:scaleX(0.9680);-webkit-text-stroke:2.2px #000;letter-spacing:1.0px">80</span></li>
<li class="row"><span id="t21" class="x r" style="left:23.50px;top:1749.52px;font-size:62.06px;line-height:62.06px;transform:scaleX(0.9974);-webkit-text-stroke:1.4px #000;letter-spacing:2.0px">Italy</span>
<span id="t22" class="x v" style="left:1689.76px;top:1751.45px;font-size:69.19px;line-height:69.19px;transform:scaleX(0.9680);-webkit-text-stroke:2.2px #000;letter-spacing:1.0px">88</span></li>
<li class="row"><span id="t23" class="x r" style="left:24.19px;top:1926.52px;font-size:62.06px;line-height:62.06px;transform:scaleX(0.9600);-webkit-text-stroke:1.4px #000;letter-spacing:2.0px">Norway</span>
<span id="t24" class="x v" style="left:1578.60px;top:1928.45px;font-size:69.19px;line-height:69.19px;transform:scaleX(0.9680);-webkit-text-stroke:2.2px #000;letter-spacing:1.0px">78</span></li>
<li class="row"><span id="t25" class="x r" style="left:24.33px;top:2103.52px;font-size:62.06px;line-height:62.06px;transform:scaleX(0.9506);-webkit-text-stroke:1.4px #000;letter-spacing:2.0px">Netherlands</span>
<span id="t26" class="x v" style="left:1623.69px;top:2105.46px;font-size:69.19px;line-height:69.19px;transform:scaleX(0.9680);-webkit-text-stroke:2.2px #000;letter-spacing:1.0px">82</span></li>
<li class="row"><span id="t27" class="x r" style="left:24.50px;top:2280.52px;font-size:62.06px;line-height:62.06px;transform:scaleX(0.9412);-webkit-text-stroke:1.4px #000;letter-spacing:2.0px">Poland</span>
<span id="t28" class="x v" style="left:1667.74px;top:2282.46px;font-size:69.19px;line-height:69.19px;transform:scaleX(0.9680);-webkit-text-stroke:2.2px #000;letter-spacing:1.0px">86</span></li>
<li class="row"><span id="t29" class="x r" style="left:24.22px;top:2457.52px;font-size:62.06px;line-height:62.06px;transform:scaleX(0.9578);-webkit-text-stroke:1.4px #000;letter-spacing:2.0px">Portugal</span>
<span id="t30" class="x v" style="left:1743.78px;top:2459.46px;font-size:69.19px;line-height:69.19px;transform:scaleX(0.9680);-webkit-text-stroke:2.2px #000;letter-spacing:1.0px">93</span></li>
<li class="row"><span id="t31" class="x r" style="left:23.53px;top:2595.52px;font-size:62.06px;line-height:62.06px;transform:scaleX(0.9748);-webkit-text-stroke:1.4px #000;letter-spacing:2.0px">United</span>
<span id="t32" class="x r" style="left:24.57px;top:2675.52px;font-size:62.06px;line-height:62.06px;transform:scaleX(0.9350);-webkit-text-stroke:1.4px #000;letter-spacing:2.0px">Kingdom</span>
<span id="t33" class="x v" style="left:1634.70px;top:2636.46px;font-size:69.19px;line-height:69.19px;transform:scaleX(0.9680);-webkit-text-stroke:2.2px #000;letter-spacing:1.0px">83</span></li>
<li class="row"><span id="t34" class="x r" style="left:25.25px;top:2811.52px;font-size:62.06px;line-height:62.06px;transform:scaleX(0.9009);-webkit-text-stroke:1.4px #000;letter-spacing:2.0px">Turkey</span>
<span id="t35" class="x v" style="left:1700.78px;top:2813.46px;font-size:69.19px;line-height:69.19px;transform:scaleX(0.9680);-webkit-text-stroke:2.2px #000;letter-spacing:1.0px">89</span></li>
<li class="row"><span id="t36" class="x r" style="left:24.56px;top:2988.52px;font-size:62.06px;line-height:62.06px;transform:scaleX(0.9290);-webkit-text-stroke:1.4px #000;letter-spacing:2.0px">South Africa</span>
<span id="t37" class="x v" style="left:1678.75px;top:2990.46px;font-size:69.19px;line-height:69.19px;transform:scaleX(0.9680);-webkit-text-stroke:2.2px #000;letter-spacing:1.0px">87</span></li>
<li class="row"><span id="t38" class="x r" style="left:24.72px;top:3165.52px;font-size:62.06px;line-height:62.06px;transform:scaleX(0.8724);-webkit-text-stroke:1.4px #000;letter-spacing:2.0px">Japan</span>
<span id="t39" class="x v" style="left:1612.68px;top:3167.46px;font-size:69.19px;line-height:69.19px;transform:scaleX(0.9680);-webkit-text-stroke:2.2px #000;letter-spacing:1.0px">81</span></li>
<li class="row"><span id="t42" class="x r" style="left:24.14px;top:3342.52px;font-size:62.06px;line-height:62.06px;transform:scaleX(0.9052);-webkit-text-stroke:1.4px #000;letter-spacing:2.0px">China</span>
<span id="t40" class="x n" style="left:680.32px;top:3309.59px;font-size:61.92px;line-height:61.92px;transform:scaleX(0.9165);-webkit-text-stroke:1.8px #fff">Results insignificant</span>
<span id="t41" class="x n" style="left:680.61px;top:3376.59px;font-size:61.92px;line-height:61.92px;transform:scaleX(0.9239);-webkit-text-stroke:1.8px #fff">(low number of respondents)</span></li>
<li class="row"><span id="t43" class="x r" style="left:24.02px;top:3519.52px;font-size:62.06px;line-height:62.06px;transform:scaleX(0.9305);-webkit-text-stroke:1.4px #000;letter-spacing:2.0px">United States</span>
<span id="t44" class="x v" style="left:1512.52px;top:3521.46px;font-size:69.19px;line-height:69.19px;transform:scaleX(0.9680);-webkit-text-stroke:2.2px #000;letter-spacing:1.0px">72</span></li>
<li class="row"><span id="t45" class="x r" style="left:24.54px;top:3696.52px;font-size:62.06px;line-height:62.06px;transform:scaleX(0.9359);-webkit-text-stroke:1.4px #000;letter-spacing:2.0px">Mexico</span>
<span id="t46" class="x v" style="left:1732.76px;top:3698.46px;font-size:69.19px;line-height:69.19px;transform:scaleX(0.9680);-webkit-text-stroke:2.2px #000;letter-spacing:1.0px">92</span></li>
<li class="row"><span id="t47" class="x r" style="left:24.60px;top:3873.52px;font-size:62.06px;line-height:62.06px;transform:scaleX(0.9909);-webkit-text-stroke:1.4px #000;letter-spacing:2.0px">Brazil</span>
<span id="t48" class="x v" style="left:1765.80px;top:3875.46px;font-size:69.19px;line-height:69.19px;transform:scaleX(0.9680);-webkit-text-stroke:2.2px #000;letter-spacing:1.0px">95</span></li>
</ul>
<p class="src">
<span id="t49" class="x src" style="left:-1.38px;top:4046.49px;font-size:49.13px;line-height:49.13px;transform:scaleX(0.9447);-webkit-text-stroke:1.5px #fff">Source: L’Observatoire Cetelem de l’Automobile 2023.</span>
</p>
</div>
</body></html>
